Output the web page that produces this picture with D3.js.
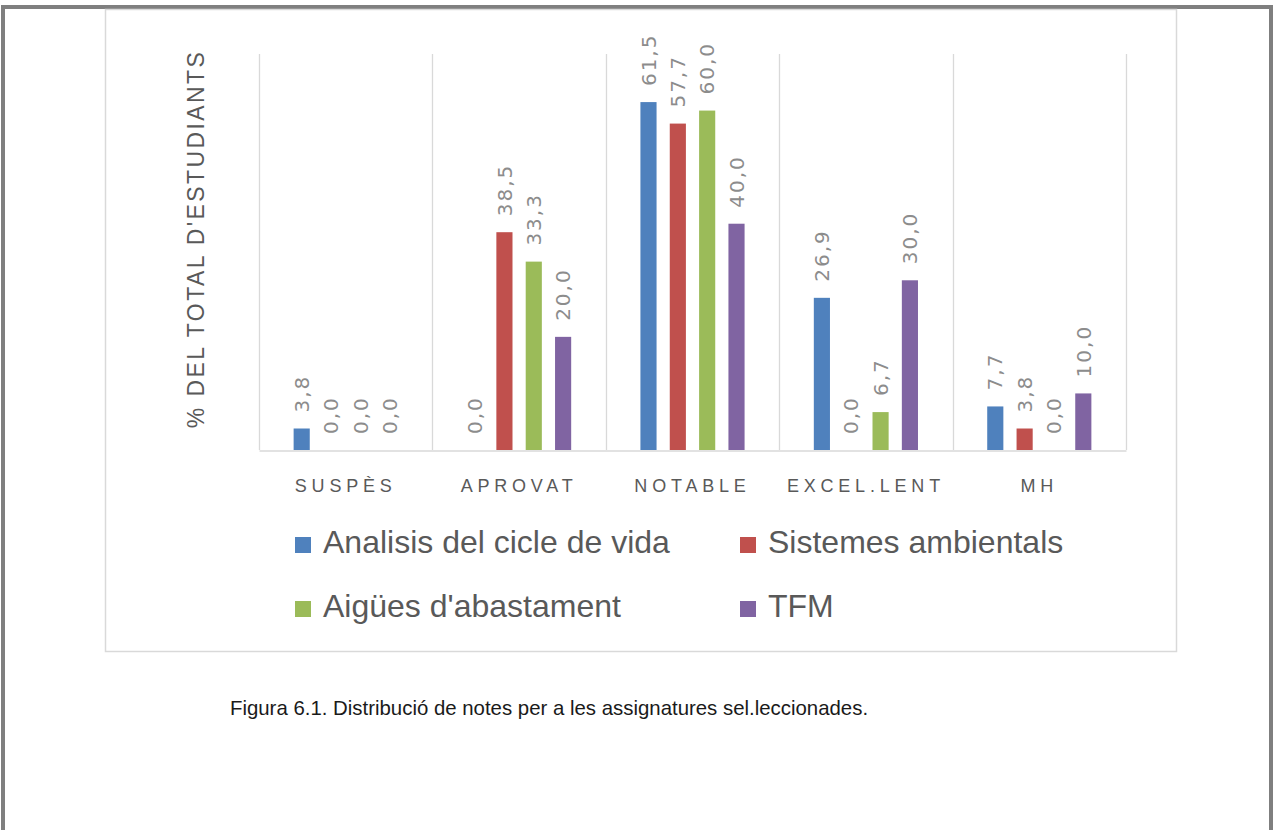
<!DOCTYPE html>
<html>
<head>
<meta charset="utf-8">
<script src="https://cdn.jsdelivr.net/npm/d3@7"></script>
<style>
  html, body { margin: 0; padding: 0; background: #fff; }
  svg { display: block; }
</style>
</head>
<body>
<svg id="chart" width="1274" height="830"></svg>
<script>
const categories = ["SUSPÈS", "APROVAT", "NOTABLE", "EXCEL.LENT", "MH"];
const seriesNames = ["Analisis del cicle de vida", "Sistemes ambientals", "Aigües d'abastament", "TFM"];
const seriesColors = ["#4f81bd", "#c0504d", "#9bbb59", "#8064a2"];
const analisis = [3.8, 0.0, 61.5, 26.9, 7.7];
const sistemes = [0.0, 38.5, 57.7, 0.0, 3.8];
const aigues = [0.0, 33.3, 60.0, 6.7, 0.0];
const tfm = [0.0, 20.0, 40.0, 30.0, 10.0];
const seriesValues = [analisis, sistemes, aigues, tfm];
const yAxisTitle = "% DEL TOTAL D'ESTUDIANTS";
const caption = "Figura 6.1. Distribució de notes per a les assignatures sel.leccionades.";

const svg = d3.select("#chart");

// outer page frame
svg.append("rect").attr("x", 3).attr("y", 7).attr("width", 1268).attr("height", 840)
  .attr("fill", "none").attr("stroke", "#7f7f7f").attr("stroke-width", 4);

// chart box
svg.append("rect").attr("x", 105.5).attr("y", 9.5).attr("width", 1071).attr("height", 642)
  .attr("fill", "#fff").attr("stroke", "#d9d9d9").attr("stroke-width", 1.5);

const plot = { left: 259, right: 1126, top: 54, bottom: 450 };

const x0 = d3.scaleBand().domain(categories).range([plot.left, plot.right]).paddingInner(0).paddingOuter(0);
const x1 = d3.scaleBand().domain(d3.range(seriesNames.length)).range([0, x0.bandwidth()])
  .paddingInner(0.45).paddingOuter(1.18);
const y = d3.scaleLinear().domain([0, 70]).range([plot.bottom, plot.top]);

// vertical gridlines at category boundaries
const bounds = categories.map(c => x0(c)).concat([plot.right]);
svg.append("g").selectAll("line").data(bounds).join("line")
  .attr("x1", d => Math.round(d) + 0.5).attr("x2", d => Math.round(d) + 0.5)
  .attr("y1", plot.top).attr("y2", plot.bottom)
  .attr("stroke", "#d9d9d9").attr("stroke-width", 1.3);

// baseline axis
const xAxis = d3.axisBottom(x0).tickSize(0).tickPadding(0);
const gx = svg.append("g").attr("transform", `translate(0,${plot.bottom + 0.5})`).call(xAxis);
gx.select(".domain").attr("stroke", "#d9d9d9").attr("stroke-width", 1.5);
gx.selectAll(".tick text")
  .attr("y", 41).attr("dy", 0)
  .attr("dx", 0)
  .attr("font-family", "'Liberation Sans', Arial, sans-serif")
  .attr("font-size", 18)
  .attr("letter-spacing", "4.8px")
  .attr("fill", "#595959");

// bars
const barData = [];
categories.forEach((c, ci) => {
  seriesValues.forEach((arr, si) => barData.push({ c, si, v: arr[ci] }));
});
const g = svg.append("g");
g.selectAll("rect").data(barData).join("rect")
  .attr("x", d => x0(d.c) + x1(d.si))
  .attr("width", x1.bandwidth())
  .attr("y", d => y(d.v))
  .attr("height", d => y(0) - y(d.v))
  .attr("fill", d => seriesColors[d.si]);

// data labels (rotated)
const fmt = v => v.toFixed(1).replace(".", ",");
g.selectAll("text").data(barData).join("text")
  .attr("transform", d => `translate(${x0(d.c) + x1(d.si) + x1.bandwidth() / 2},${y(d.v) - 16}) rotate(-90)`)
  .attr("dy", "0.36em")
  .attr("text-anchor", "start")
  .attr("font-family", "'DejaVu Sans', sans-serif")
  .attr("font-size", 20)
  .attr("letter-spacing", "2px")
  .attr("fill", "#8c8c8c")
  .text(d => fmt(d.v));

// y axis title
svg.append("text")
  .attr("transform", `translate(204,${(48 + 430) / 2}) rotate(-90)`)
  .attr("text-anchor", "middle")
  .attr("font-family", "'Liberation Sans', Arial, sans-serif")
  .attr("font-size", 23)
  .attr("letter-spacing", "2.4px")
  .attr("fill", "#595959")
  .text(yAxisTitle);

// legend
const legendPos = [[295, 553], [740, 553], [295, 617], [740, 617]];
const lg = svg.append("g").selectAll("g").data(seriesNames).join("g")
  .attr("transform", (d, i) => `translate(${legendPos[i][0]},${legendPos[i][1]})`);
lg.append("rect").attr("x", 0).attr("y", -16).attr("width", 16).attr("height", 16)
  .attr("fill", (d, i) => seriesColors[i]);
lg.append("text").attr("x", 28).attr("y", 0)
  .attr("font-family", "'Liberation Sans', Arial, sans-serif")
  .attr("font-size", 32)
  .attr("fill", "#595959")
  .text(d => d);

// caption
svg.append("text")
  .attr("x", 549).attr("y", 715)
  .attr("text-anchor", "middle")
  .attr("font-family", "'Liberation Sans', Arial, sans-serif")
  .attr("font-size", 20.4)
  .attr("fill", "#1a1a1a")
  .text(caption);
</script>
</body>
</html>
